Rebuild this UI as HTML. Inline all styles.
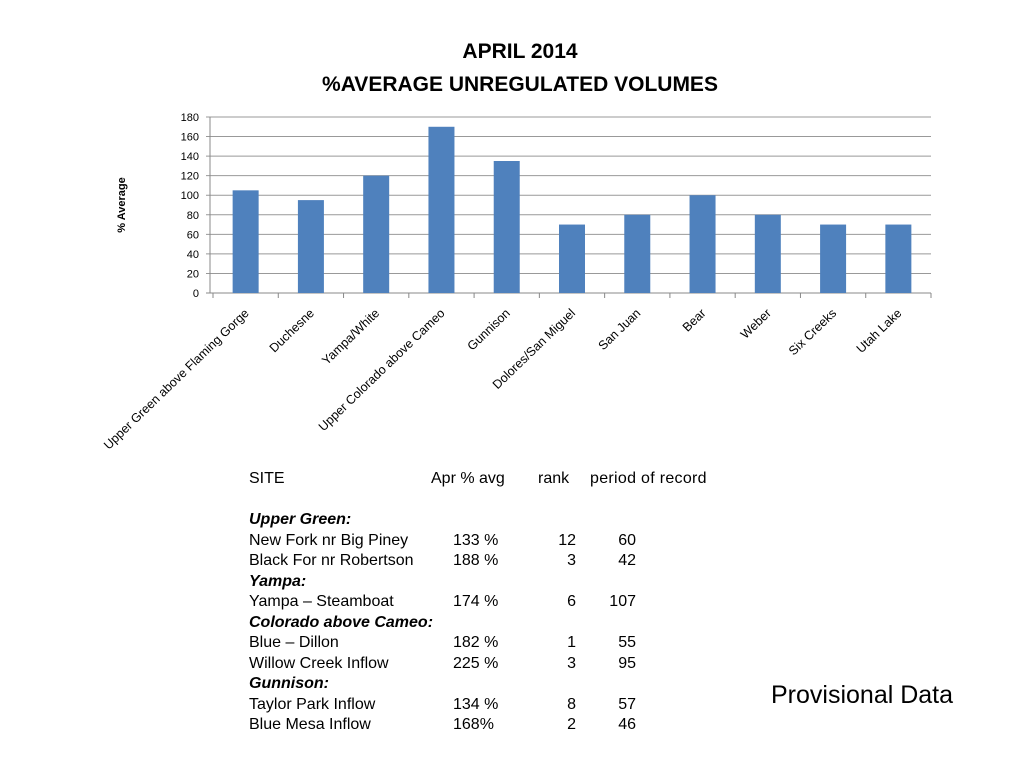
<!DOCTYPE html>
<html><head><meta charset="utf-8"><style>
body{margin:0;width:1024px;height:768px;background:#fff;font-family:"Liberation Sans",sans-serif;position:relative;overflow:hidden}
.t{position:absolute;font-size:16px;line-height:20px;white-space:nowrap;color:#000}
.r{text-align:right}
</style></head><body>
<svg width="1024" height="470" style="position:absolute;left:0;top:0">
<text x="520" y="58" text-anchor="middle" font-size="21" font-weight="bold" font-family="Liberation Sans">APRIL 2014</text>
<text x="520" y="91" text-anchor="middle" font-size="21" font-weight="bold" font-family="Liberation Sans">%AVERAGE UNREGULATED VOLUMES</text>
<text transform="translate(125,205) rotate(-90)" text-anchor="middle" font-size="11" font-weight="bold" font-family="Liberation Sans">% Average</text>
<g id="g"></g>
</svg>
<div class="t" style="left:249px;top:469px">SITE</div>
<div class="t" style="left:431px;top:469px">Apr % avg</div>
<div class="t" style="left:538px;top:469px">rank</div>
<div class="t" style="left:590px;top:469px;letter-spacing:0.3px">period of record</div>
<div id="tbl"></div>
<div class="t" style="left:771px;top:681px;font-size:25px;line-height:28px">Provisional Data</div>
<script>
const categories=["Upper Green above Flaming Gorge","Duchesne","Yampa/White","Upper Colorado above Cameo","Gunnison","Dolores/San Miguel","San Juan","Bear","Weber","Six Creeks","Utah Lake"];
const values=[105,95,120,170,135,70,80,100,80,70,70];
const yTicks=[0,20,40,60,80,100,120,140,160,180];
const NS="http://www.w3.org/2000/svg";
const g=document.getElementById('g');
const L=213,R=931,T=117,B=293,yMax=180;
const cw=(R-L)/categories.length;
const y=v=>B-(v/yMax)*(B-T);
const x=i=>L+cw*(i+0.5);
function mk(t,a){const e=document.createElementNS(NS,t);for(const k in a)e.setAttribute(k,a[k]);g.appendChild(e);return e;}
yTicks.forEach(v=>{
 const l=mk('line',{x1:206,x2:R,y1:y(v),y2:y(v),stroke:v===0?'#888':'#999','stroke-width':1});
 
 
 const t=mk('text',{x:199,y:y(v)+4,'text-anchor':'end','font-size':11,'font-family':'Liberation Sans'});
 t.textContent=v;
 
 
});
const ax=mk('line',{x1:210,x2:210,y1:T,y2:B,stroke:'#888'});


for(let i=0;i<=categories.length;i++){
 const tk=mk('line',{x1:L+cw*i,x2:L+cw*i,y1:B,y2:B+5,stroke:'#888'});
 
 
}
categories.forEach((c,i)=>{
 const bw=26;
 const b=mk('rect',{x:x(i)-bw/2,y:y(values[i]),width:bw,height:B-y(values[i]),fill:'#4f81bd'});
 
 
 const t=mk('text',{transform:`translate(${x(i)+4},${B+21}) rotate(-44)`,'text-anchor':'end','font-size':12.5,'font-family':'Liberation Sans'});
 t.textContent=c;
 
 
});
const rows=[
 ["Upper Green:",1,"","",""],
 ["New Fork nr Big Piney",0,"133 %","12","60"],
 ["Black For nr Robertson",0,"188 %","3","42"],
 ["Yampa:",1,"","",""],
 ["Yampa – Steamboat",0,"174 %","6","107"],
 ["Colorado above Cameo:",1,"","",""],
 ["Blue – Dillon",0,"182 %","1","55"],
 ["Willow Creek Inflow",0,"225 %","3","95"],
 ["Gunnison:",1,"","",""],
 ["Taylor Park Inflow",0,"134 %","8","57"],
 ["Blue Mesa Inflow",0,"168%","2","46"]];
const tb=document.getElementById('tbl');
rows.forEach((r,i)=>{
 const top=510+i*20.5;
 const add=(txt,st,name)=>{const d=document.createElement('div');d.className='t';d.style.cssText=st+';top:'+top+'px';d.textContent=txt;
  
  
  tb.appendChild(d);};
 add(r[0],'left:249px'+(r[1]?';font-weight:bold;font-style:italic':''),r[1]?'table-group-label':'table-site-name');
 if(r[2]){add(r[2],'left:453px','table-pct-avg');add(r[3],'right:'+(1024-576)+'px','table-rank');add(r[4],'right:'+(1024-636)+'px','table-period');}
});
</script>
</body></html>
